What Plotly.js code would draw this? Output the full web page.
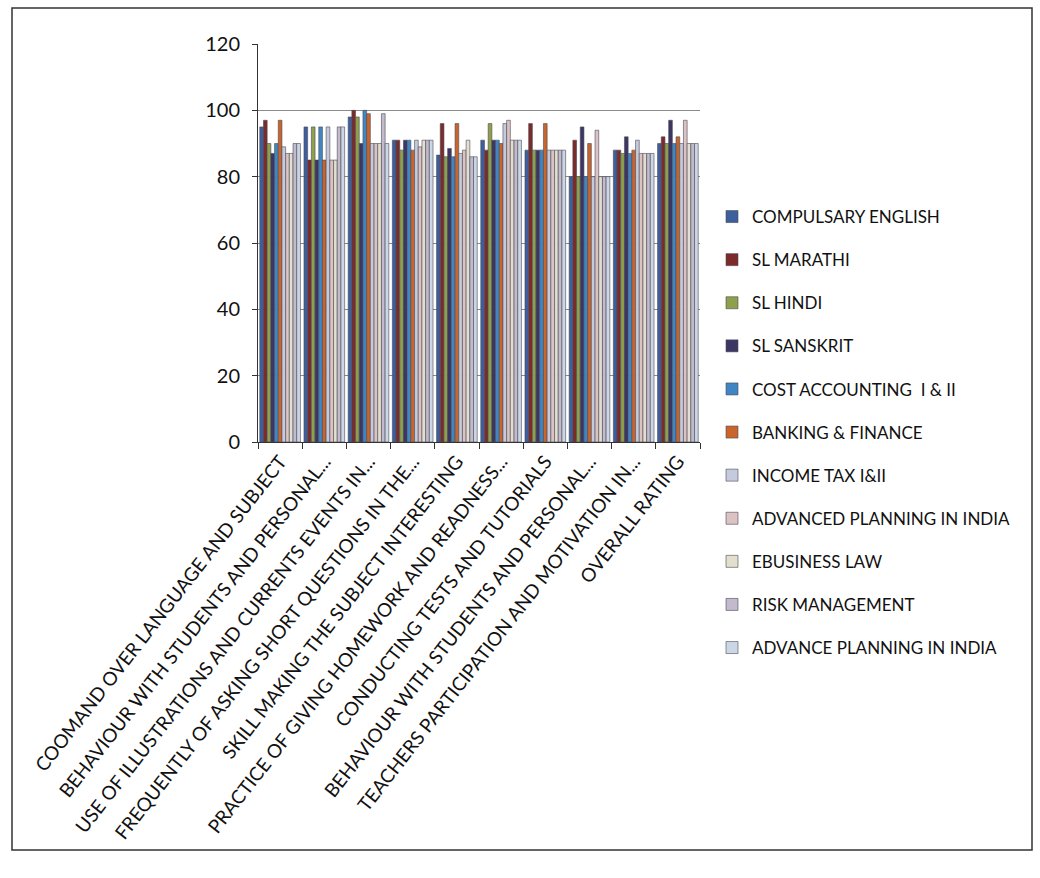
<!DOCTYPE html>
<html>
<head>
<meta charset="utf-8">
<script src="https://cdn.plot.ly/plotly-3.0.1.min.js"></script>
<style>html,body{margin:0;padding:0;background:#fff;}#chart{width:1040px;height:878px;}</style>
</head>
<body>
<div id="chart"></div>
<script>
const categories = [
  "COOMAND OVER LANGUAGE AND SUBJECT",
  "BEHAVIOUR WITH STUDENTS AND PERSONAL...",
  "USE OF ILLUSTRATIONS AND CURRENTS EVENTS IN...",
  "FREQUENTLY OF ASKING SHORT QUESTIONS IN THE...",
  "SKILL MAKING THE SUBJECT INTERESTING",
  "PRACTICE OF GIVING HOMEWORK AND READNESS...",
  "CONDUCTING TESTS AND TUTORIALS",
  "BEHAVIOUR WITH STUDENTS AND PERSONAL...",
  "TEACHERS PARTICIPATION AND MOTIVATION IN...",
  "OVERALL RATING"
];
const seriesNames = [
  "COMPULSARY ENGLISH", "SL MARATHI", "SL HINDI", "SL SANSKRIT",
  "COST ACCOUNTING  I & II", "BANKING & FINANCE", "INCOME TAX I&II",
  "ADVANCED PLANNING IN INDIA", "EBUSINESS LAW", "RISK MANAGEMENT",
  "ADVANCE PLANNING IN INDIA"
];
const compulsaryEnglish   = [95, 95, 98, 91, 86.5, 91, 88, 80, 88, 90];
const slMarathi           = [97, 85, 100, 91, 96, 88, 96, 91, 88, 92];
const slHindi             = [90, 95, 98, 88, 86, 96, 88, 80, 87, 90];
const slSanskrit          = [87, 85, 90, 91, 88.5, 91, 88, 95, 92, 97];
const costAccounting      = [90, 95, 100, 91, 86, 91, 88, 80, 87, 90];
const bankingFinance      = [97, 85, 99, 88, 96, 90, 96, 90, 88, 92];
const incomeTax           = [89, 95, 90, 91, 87, 96, 88, 80, 91, 90];
const advancedPlanning    = [87, 85, 90, 89, 88, 97, 88, 94, 87, 97];
const ebusinessLaw        = [87, 85, 90, 91, 91, 91, 88, 80, 87, 90];
const riskManagement      = [90, 95, 99, 91, 86, 91, 88, 80, 87, 90];
const advancePlanning     = [90, 95, 90, 91, 86, 91, 88, 80, 87, 90];
const yTicks = [0, 20, 40, 60, 80, 100, 120];

const allSeries = [compulsaryEnglish, slMarathi, slHindi, slSanskrit, costAccounting,
  bankingFinance, incomeTax, advancedPlanning, ebusinessLaw, riskManagement, advancePlanning];
const colors = ["#3d5f9e", "#7c2b2b", "#8fa04c", "#3b3663", "#3f87c4", "#c9652c",
  "#c5cadc", "#dcc2c2", "#e3dfcf", "#c3bacd", "#ccd7e6"];

const xs = categories.map((c, i) => i + 1);
const traces = allSeries.map((vals, i) => ({
  type: "bar",
  name: seriesNames[i],
  x: xs,
  y: vals,
  legendgroup: "g" + i,
  marker: {color: colors[i], line: {color: "#4a4a55", width: 0.6}},
  hoverinfo: "name+y"
}));

function px(x){ return (x - 258) / 442; }
function py(y){ return (442 - y) / 398; }

const layout = {
  width: 1040, height: 878,
  margin: {l: 258, r: 340, t: 44, b: 436},
  paper_bgcolor: "#ffffff", plot_bgcolor: "#ffffff",
  font: {family: "Lato, 'Open Sans', sans-serif", color: "#111"},
  barmode: "group", bargap: 0.08, bargroupgap: 0,
  showlegend: true,
  legend: {
    x: px(712), y: py(199), xanchor: "left", yanchor: "top",
    font: {size: 17, color: "#111", family: "Lato, sans-serif"},
    traceorder: "grouped", tracegroupgap: 18,
    itemwidth: 30, bgcolor: "rgba(0,0,0,0)",
    maxheight: 700
  },
  xaxis: {
    range: [0.5, 10.5],
    tickvals: xs, ticktext: categories,
    tickangle: -52,
    tickfont: {size: 19, family: "Lato, sans-serif", color: "#111"},
    ticks: "",
    minor: {tick0: 0.5, dtick: 1, ticks: "outside", ticklen: 6, tickcolor: "#333", showgrid: false},
    showline: true, linecolor: "#333", linewidth: 1,
    showgrid: false, zeroline: false, automargin: false
  },
  yaxis: {
    range: [0, 120], tickvals: yTicks,
    ticks: "outside", ticklen: 5, tickcolor: "#333",
    tickfont: {size: 20, family: "Lato, sans-serif", color: "#111"},
    ticklabelstandoff: 8,
    showline: true, linecolor: "#333", linewidth: 1,
    showgrid: true, gridcolor: "#8a8a8a", gridwidth: 1,
    zeroline: false, automargin: false
  },
  shapes: [{
    type: "rect", xref: "paper", yref: "paper",
    x0: px(12), x1: px(1032), y0: py(850), y1: py(8),
    line: {color: "#333", width: 1.5}, fillcolor: "rgba(0,0,0,0)", layer: "below"
  }]
};

Plotly.newPlot("chart", traces, layout, {displayModeBar: false, responsive: false});
</script>
</body>
</html>
